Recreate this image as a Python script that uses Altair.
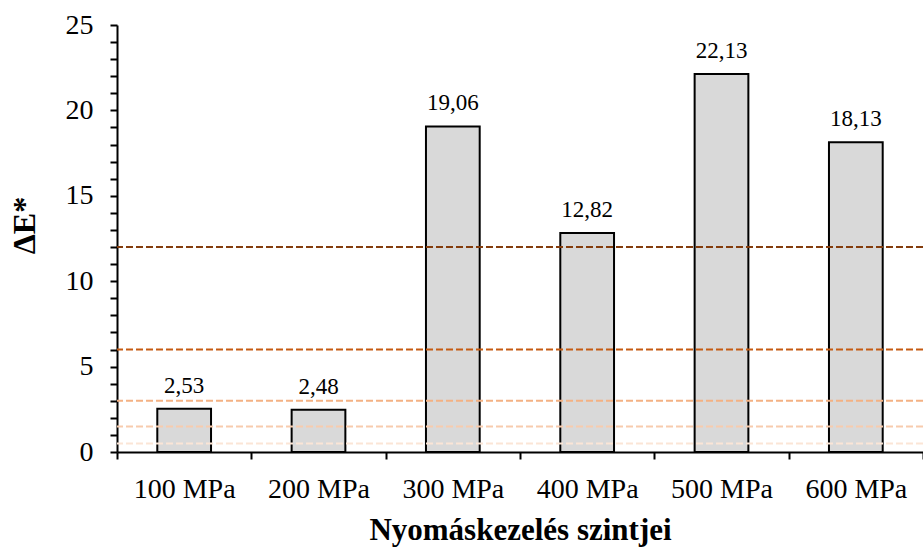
import altair as alt
import pandas as pd

categories = ["100 MPa", "200 MPa", "300 MPa", "400 MPa", "500 MPa", "600 MPa"]
values = [2.53, 2.48, 19.06, 12.82, 22.13, 18.13]
thresholds = [0.5, 1.5, 3, 6, 12]
line_colors = ["#FBE5D6", "#F8CBAD", "#F4B183", "#C55A11", "#843C0C"]

FONT = "Liberation Serif"

df = pd.DataFrame({
    "cat": categories,
    "val": values,
    "label": [f"{v:.2f}".replace(".", ",") for v in values],
})
rdf = pd.DataFrame({"thr": thresholds})

x_axis = alt.Axis(
    title="Nyomáskezelés szintjei", tickBand="extent", tickSize=7, tickWidth=2,
    tickColor="black", domainColor="black", domainWidth=2, labelAngle=0,
    labelFont=FONT, labelFontSize=28, labelColor="black",
    labelBaseline="alphabetic", labelPadding=38,
    titleFont=FONT, titleFontSize=31, titleFontWeight="bold", titleColor="black",
    titleBaseline="alphabetic", titleY=87, grid=False,
)
y_axis = alt.Axis(
    title="ΔE*", values=list(range(0, 26)),
    labelExpr="datum.value % 5 === 0 ? datum.label : ''",
    tickSize=7, tickWidth=2, tickColor="black", domainColor="black", domainWidth=2,
    labelFont=FONT, labelFontSize=28, labelColor="black", labelPadding=17,
    titleFont=FONT, titleFontSize=32, titleFontWeight="bold", titleColor="black",
    titleAngle=270, titleX=-93, titleY=200, titleBaseline="middle", titleAlign="center",
    grid=False,
)
x_scale = alt.Scale(paddingInner=0, paddingOuter=0)
y_scale = alt.Scale(domain=[0, 25], nice=False, zero=True)

x_enc = alt.X("cat:N", sort=categories, scale=x_scale, axis=x_axis)
y_enc = alt.Y("val:Q", scale=y_scale, axis=y_axis)

bars = alt.Chart(df).mark_bar(
    width=alt.RelativeBandSize(0.4), fill="#D9D9D9", stroke="black", strokeWidth=2
).encode(x=x_enc, y=y_enc)

rules = alt.Chart(rdf).mark_rule(strokeDash=[7, 3], strokeWidth=2).encode(
    y=alt.Y("thr:Q", scale=y_scale, axis=y_axis),
    color=alt.Color("thr:O", scale=alt.Scale(domain=thresholds, range=line_colors), legend=None),
)

texts = alt.Chart(df).mark_text(
    font=FONT, fontSize=23, color="black", baseline="alphabetic", dy=-16
).encode(x=x_enc, y=y_enc, text="label:N")

chart = alt.layer(bars, rules, texts).properties(
    width=806, height=427,
    autosize=alt.AutoSizeParams(type="none"),
    padding={"left": 117, "top": 25, "right": 0, "bottom": 97},
    background="white",
).configure_view(stroke=None)

chart.save("out.html", embed_options={"renderer": "svg", "actions": False})
